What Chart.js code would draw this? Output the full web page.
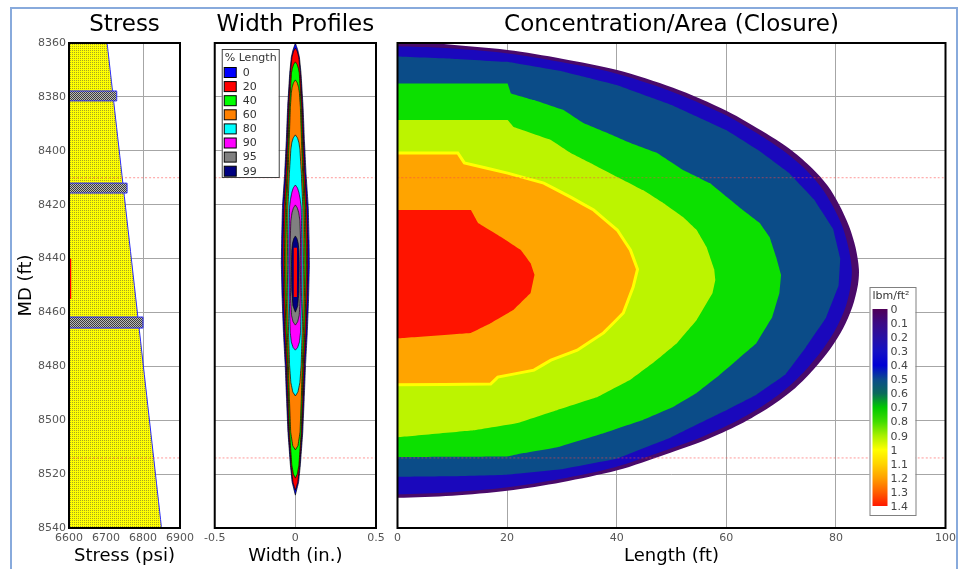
<!DOCTYPE html>
<html><head><meta charset="utf-8">
<script src="https://cdn.jsdelivr.net/npm/chart.js@4.4.1/dist/chart.umd.min.js"></script>
<style>
html,body{margin:0;padding:0;background:#fff;}
#wrap{position:relative;width:960px;height:569px;overflow:hidden;background:#fff;}
#frame{position:absolute;left:10px;top:7px;width:944px;height:600px;border:2px solid #88aadc;}
canvas{position:absolute;top:0;}
</style></head><body>
<div id="wrap">
<div id="frame"></div>
<canvas id="c1" width="200" height="569" style="left:0px"></canvas>
<canvas id="c2" width="190" height="569" style="left:200px"></canvas>
<canvas id="c3" width="570" height="569" style="left:390px"></canvas>
</div>
<script>
const FONT = '"DejaVu Sans", Verdana, sans-serif';

// ---------- shared depth axis ----------
const mdTicks = [8360, 8380, 8400, 8420, 8440, 8460, 8480, 8500, 8520, 8540];
const refLineMD = [8410, 8514];

// ---------- Stress panel ----------
const stressTicks = [6600, 6700, 6800, 6900];
const stressMD = [8360, 8540];
const stressPsi = [6703, 6850];
const shaleTopMD = [8377.8, 8412.0, 8461.7];
const shaleBaseMD = [8381.5, 8415.7, 8465.8];
const shalePsi = [6729, 6757, 6800];
const perfMD = [8440, 8455];
const perfPsi = [6602, 6602];

// ---------- Width profiles panel ([MD, half width in.]) ----------
const widthTicks = [-0.5, 0, 0.5];
const profileLabels = ['0', '20', '40', '60', '80', '90', '95', '99'];
const profileColors = ['#0000ff', '#ff0000', '#00ff00', '#ff8000', '#00ffff', '#ff00ff', '#808080', '#000080'];
const prof0 = [[8360,0],[8362.6,0.015],[8365.2,0.025],[8371.1,0.035],[8383.8,0.048],[8396,0.056],[8408.3,0.066],[8420.9,0.08],[8433.1,0.085],[8442,0.087],[8454.7,0.082],[8467.3,0.074],[8479.5,0.063],[8491.8,0.055],[8504.4,0.046],[8516.6,0.031],[8523,0.02],[8527.8,0]];
const prof20 = [[8361.9,0],[8363,0.011],[8365.2,0.021],[8371.1,0.031],[8383.8,0.043],[8396,0.05],[8408.3,0.059],[8420.9,0.071],[8433.1,0.076],[8442,0.077],[8454.7,0.073],[8467.3,0.066],[8479.5,0.056],[8491.8,0.049],[8504.4,0.041],[8516.6,0.027],[8523,0.015],[8526,0]];
const prof40 = [[8367,0],[8368,0.011],[8369.5,0.019],[8371.1,0.024],[8383.8,0.037],[8396,0.044],[8408.3,0.051],[8420.9,0.062],[8433.1,0.066],[8442,0.068],[8454.7,0.064],[8467.3,0.058],[8479.5,0.049],[8491.8,0.043],[8504.4,0.036],[8516.6,0.022],[8520,0.012],[8521.5,0]];
const prof60 = [[8373.7,0],[8374.8,0.012],[8376.5,0.02],[8378.5,0.025],[8383.8,0.031],[8396,0.038],[8408.3,0.045],[8420.9,0.054],[8433.1,0.058],[8442,0.059],[8454.7,0.056],[8467.3,0.05],[8479.5,0.043],[8491.8,0.037],[8504.4,0.029],[8509.5,0.016],[8511,0]];
const prof80 = [[8394.1,0],[8395.2,0.013],[8397,0.022],[8399.5,0.028],[8408.3,0.037],[8420.9,0.046],[8433.1,0.048],[8442,0.05],[8454.7,0.047],[8467.3,0.042],[8479.5,0.036],[8486,0.028],[8489.5,0.016],[8491,0]];
const prof90 = [[8412.7,0],[8413.8,0.013],[8415.5,0.022],[8418,0.03],[8420.9,0.036],[8433.1,0.04],[8442,0.041],[8454.7,0.038],[8467.3,0.032],[8471,0.025],[8473,0.014],[8474,0]];
const prof95 = [[8420.1,0],[8421.2,0.012],[8423,0.021],[8426,0.028],[8433.1,0.032],[8442,0.033],[8454.7,0.03],[8461,0.024],[8463.5,0.014],[8464.7,0]];
const prof99 = [[8431.6,0],[8432.6,0.01],[8434.5,0.018],[8437,0.022],[8442,0.024],[8452,0.022],[8457.5,0.015],[8459.9,0]];
const coreStrip = [[8436,0.01],[8454.3,0.01]];

// ---------- Concentration panel ([length ft, MD ft] contour boundaries) ----------
const lengthTicks = [0, 20, 40, 60, 80, 100];
const cbLevels = [0, 0.1, 0.2, 0.3, 0.4, 0.5, 0.6, 0.7, 0.8, 0.9, 1, 1.1, 1.2, 1.3, 1.4];
const cbColors = ['#500058','#3c0a84','#2810a4','#1410c4','#0000d4','#0a4a8c','#0a6a5a','#00c800','#40dc00','#a8f000','#ffff00','#ffd400','#ffa000','#ff6000','#ff1800'];
const bandNames = ['0.05', '0.25', '0.5', '0.75', '0.95', '1.2', '1.35'];
const bandColors = ['#4a0a6a', '#1a08bc', '#0b4c88', '#0ce000', '#bcf400', '#ffa400', '#ff1400'];
const bndPurple = [[0,8358],[8,8360.3],[20.1,8362.6],[30,8365.8],[40.1,8370],[50.3,8376.6],[60.1,8385.2],[67.3,8393.6],[72,8400],[75.7,8406.6],[78.5,8413],[80.6,8420],[82.4,8428],[83.6,8436],[84.2,8444],[84,8450],[83,8458],[81.3,8466],[79,8473.5],[76,8481],[72.6,8488],[68,8495],[62.5,8501.5],[56,8507.5],[49,8512.6],[40.1,8518.6],[30,8523],[20,8526.2],[10,8528],[0,8528.8]];
const bndBlue = [[0,8361.2],[8,8361.8],[19.8,8363.8],[29.6,8367],[39.5,8371.1],[49.5,8377.6],[59.2,8386.1],[66.3,8394.4],[70.9,8400.7],[74.6,8407.2],[77.3,8413.5],[79.4,8420.4],[81.2,8428.2],[82.3,8436.1],[82.9,8444],[82.7,8449.9],[81.8,8457.8],[80.1,8465.7],[77.8,8473.1],[74.9,8480.4],[71.5,8487.3],[67,8494.2],[61.6,8500.6],[55.2,8506.5],[48.3,8511.6],[39.5,8517.5],[29.6,8521.8],[19.7,8525],[9.9,8526.7],[0,8527.5]];
const bndTeal = [[0,8365],[10,8365.8],[20,8367],[30,8370.5],[40,8375.6],[50,8383],[60,8392.3],[66,8400],[71.5,8408.3],[76,8418],[79.5,8429],[80.8,8440],[80.5,8450],[78.2,8462],[74.5,8473],[70.8,8483],[65.5,8490.5],[59.5,8496.8],[50,8506.3],[40,8514.3],[30,8518.2],[20,8520.2],[10,8520.8],[0,8521]];
const bndGreen = [[0,8375],[20.1,8375],[20.7,8378.7],[24.9,8381.2],[30.3,8384.9],[33.9,8389.7],[38.3,8393.4],[42.5,8397.1],[47.4,8400.8],[52.1,8407.1],[57,8412],[60.1,8417.2],[63,8422],[66.1,8426.8],[67.9,8432],[69.1,8439.4],[70,8446],[69.7,8452.8],[68.4,8461.7],[65.5,8471.4],[61.9,8477.7],[58.3,8484],[54.6,8489.9],[50.3,8495.1],[44.8,8499.9],[37.6,8504.8],[29.2,8510],[23,8512.2],[20,8513.5],[0,8513.7]];
const bndYG = [[0,8388.6],[20.1,8388.6],[21.2,8391.2],[28,8396],[31.6,8400.8],[35.2,8404.5],[40.1,8409.7],[44.8,8414.6],[48.5,8419.4],[52.1,8424.6],[54.6,8429.4],[56.4,8435.7],[57.8,8444],[58,8448],[57.5,8452.8],[54.6,8462.8],[51,8471.4],[46.6,8478.8],[42.5,8485],[36.5,8491.4],[29.2,8496.2],[22,8501],[14,8503.7],[0,8506.3]];
const bndOrange = [[0,8400.8],[11,8400.8],[12.2,8404.5],[20.1,8408.3],[26.7,8412],[31.6,8417.2],[35.8,8422],[40.1,8429.4],[42.5,8436.8],[43.8,8444],[43,8450.6],[41.2,8460.2],[37.6,8467.6],[32.8,8474],[28,8477.7],[24.9,8481.4],[18.3,8484],[17,8486.6],[0,8486.8]];
const bndRed = [[0,8422],[13.4,8422],[14.7,8426.8],[18.9,8432],[22.5,8436.8],[24.3,8441.7],[25,8446],[24.3,8452.8],[21.2,8459],[17,8464],[13.4,8467.6],[0,8469.6]];
const concBands = [bndPurple, bndBlue, bndTeal, bndGreen, bndYG, bndOrange, bndRed];

// ---------- helpers ----------
function makePattern(size, bg, fg, cells) {
  const c = document.createElement('canvas');
  c.width = size; c.height = size;
  const g = c.getContext('2d');
  g.fillStyle = bg; g.fillRect(0, 0, size, size);
  g.fillStyle = fg;
  cells.forEach(p => g.fillRect(p[0], p[1], 1, 1));
  return g.createPattern(c, 'repeat');
}
const yellowDots = makePattern(2, '#ffff00', '#a8a820', [[0,0]]);
const shaleCheck = makePattern(2, '#b8b8b8', '#3c3c3c', [[0,0],[1,1]]);

function lineDs(data, extra) {
  return Object.assign({data: data, showLine: true, pointRadius: 0, pointHoverRadius: 0,
    borderWidth: 0, borderColor: 'rgba(0,0,0,0)', fill: false, clip: 0, tension: 0.001}, extra);
}
function mirror(prof) {
  const right = prof.map(p => ({x: p[1], y: p[0]}));
  const left = prof.slice().reverse().map(p => ({x: -p[1], y: p[0]}));
  return right.concat(left);
}
function refLines(xmin, xmax) {
  return refLineMD.map(md => lineDs([{x: xmin, y: md}, {x: xmax, y: md}],
    {borderColor: 'rgba(255,70,70,0.55)', borderWidth: 1, borderDash: [2, 2]}));
}

function yScale(showLabels, width) {
  return {
    type: 'linear', reverse: true, min: mdTicks[0], max: mdTicks[mdTicks.length - 1],
    ticks: {stepSize: mdTicks[1] - mdTicks[0], display: showLabels, color: '#555', font: {family: FONT, size: 11}, padding: 3, callback: v => String(v)},
    grid: {color: '#a6a6a6', drawTicks: false, lineWidth: 1},
    border: {display: false},
    title: {display: showLabels, text: 'MD (ft)', color: '#000', font: {family: FONT, size: 18}, padding: {top: 16, bottom: 0}},
    afterFit(s) { s.width = width; }
  };
}
function xScale(ticks, title) {
  return {
    type: 'linear', min: ticks[0], max: ticks[ticks.length - 1],
    ticks: {stepSize: ticks[1] - ticks[0], color: '#555', font: {family: FONT, size: 11}, padding: 4, callback: v => String(v)},
    grid: {color: '#a6a6a6', drawTicks: false, lineWidth: 1},
    border: {display: false},
    title: {display: true, text: title, color: '#000', font: {family: FONT, size: 18}, padding: {top: 0, bottom: 2}},
    afterFit(s) { s.height = 41; }
  };
}

const panelPlugin = {
  id: 'panel',
  afterDraw(chart, args, o) {
    const {ctx, chartArea: a} = chart;
    ctx.save();
    ctx.strokeStyle = '#000'; ctx.lineWidth = 2;
    ctx.strokeRect(a.left, a.top, a.right - a.left, a.bottom - a.top);
    ctx.font = '23px ' + FONT; ctx.fillStyle = '#000';
    ctx.textAlign = 'center'; ctx.textBaseline = 'middle';
    ctx.fillText(o.text, (a.left + a.right) / 2, 25);
    ctx.restore();
  }
};

const profLegendPlugin = {
  id: 'profLegend',
  afterDraw(chart) {
    const {ctx, chartArea: a} = chart;
    const x0 = a.left + 7, y0 = a.top + 6;
    ctx.save();
    ctx.fillStyle = '#fff'; ctx.fillRect(x0, y0, 57, 128);
    ctx.strokeStyle = '#404040'; ctx.lineWidth = 1; ctx.strokeRect(x0 + 0.5, y0 + 0.5, 57, 128);
    ctx.font = '11px ' + FONT; ctx.fillStyle = '#333'; ctx.textAlign = 'left'; ctx.textBaseline = 'middle';
    ctx.fillText('% Length', x0 + 3, y0 + 9);
    profileLabels.forEach((lab, i) => {
      const yy = y0 + 18 + i * 14.1;
      ctx.fillStyle = profileColors[i]; ctx.fillRect(x0 + 2.5, yy + 0.5, 12, 10);
      ctx.strokeStyle = '#000'; ctx.strokeRect(x0 + 2.5, yy + 0.5, 12, 10);
      ctx.fillStyle = '#333'; ctx.fillText(lab, x0 + 21, yy + 6);
    });
    ctx.restore();
  }
};

const colorbarPlugin = {
  id: 'colorbar',
  afterDraw(chart) {
    const {ctx, chartArea: a} = chart;
    const bx = a.right - 76, by = 287, bw = 46, bh = 228;
    ctx.save();
    ctx.fillStyle = '#fff'; ctx.fillRect(bx, by, bw, bh);
    ctx.strokeStyle = '#808080'; ctx.lineWidth = 1; ctx.strokeRect(bx + 0.5, by + 0.5, bw, bh);
    ctx.font = '11px ' + FONT; ctx.fillStyle = '#333'; ctx.textAlign = 'left'; ctx.textBaseline = 'middle';
    ctx.fillText('lbm/ft\u00b2', bx + 3, by + 9);
    const top = 309, bot = 506, x = bx + 3, w = 15;
    const maxL = cbLevels[cbLevels.length - 1];
    const grad = ctx.createLinearGradient(0, top, 0, bot);
    cbLevels.forEach((lv, i) => grad.addColorStop(lv / maxL, cbColors[i]));
    ctx.fillStyle = grad; ctx.fillRect(x, top, w, bot - top);
    ctx.fillStyle = '#444';
    cbLevels.forEach(lv => {
      ctx.fillText(String(lv), x + w + 3, top + 1 + (bot - top) * lv / maxL);
    });
    ctx.restore();
  }
};

const baseOpts = {responsive: false, animation: false, events: [],
  plugins: {legend: {display: false}, tooltip: {enabled: false}}};

// ---------- Chart 1: Stress ----------
const stressDatasets = [].concat(
  refLines(stressTicks[0], stressTicks[stressTicks.length - 1]),
  [lineDs(perfMD.map((m, i) => ({x: perfPsi[i], y: m})), {borderColor: '#ff0000', borderWidth: 3})],
  shaleTopMD.map((t, i) => lineDs([
    {x: stressTicks[0], y: t}, {x: shalePsi[i], y: t}, {x: shalePsi[i], y: shaleBaseMD[i]}, {x: stressTicks[0], y: shaleBaseMD[i]}
  ], {fill: 'shape', backgroundColor: shaleCheck, borderColor: '#2a2aff', borderWidth: 1})),
  [lineDs([
    {x: stressTicks[0], y: stressMD[0]}, {x: stressPsi[0], y: stressMD[0]},
    {x: stressPsi[1], y: stressMD[1]}, {x: stressTicks[0], y: stressMD[1]}
  ], {fill: 'shape', backgroundColor: yellowDots, borderColor: '#2a2aff', borderWidth: 1})]
);
new Chart(document.getElementById('c1'), {
  type: 'scatter',
  data: {datasets: stressDatasets},
  options: Object.assign({}, baseOpts, {
    layout: {padding: {left: 0, right: 20, top: 43, bottom: 0}},
    scales: {x: xScale(stressTicks, 'Stress (psi)'), y: yScale(true, 69)},
    plugins: Object.assign({}, baseOpts.plugins, {panel: {text: 'Stress'}})
  }),
  plugins: [panelPlugin]
});

// ---------- Chart 2: Width Profiles ----------
const profiles = [prof0, prof20, prof40, prof60, prof80, prof90, prof95, prof99];
const widthDatasets = [lineDs(mirror(coreStrip), {fill: 'shape', backgroundColor: '#ff0000'})]
  .concat(profiles.map((p, i) => lineDs(mirror(p), {fill: 'shape', backgroundColor: profileColors[i], borderColor: 'rgba(0,0,0,0.85)', borderWidth: 0.8, label: profileLabels[i]})).reverse())
  .concat(refLines(widthTicks[0], widthTicks[widthTicks.length - 1]));
new Chart(document.getElementById('c2'), {
  type: 'scatter',
  data: {datasets: widthDatasets},
  options: Object.assign({}, baseOpts, {
    layout: {padding: {left: 14, right: 14, top: 43, bottom: 0}},
    scales: {x: xScale(widthTicks, 'Width (in.)'), y: yScale(false, 0)},
    plugins: Object.assign({}, baseOpts.plugins, {panel: {text: 'Width Profiles'}})
  }),
  plugins: [panelPlugin, profLegendPlugin]
});

// ---------- Chart 3: Concentration/Area ----------
const concDatasets = refLines(lengthTicks[0], lengthTicks[lengthTicks.length - 1])
  .concat(concBands.map((b, i) => lineDs(b.map(p => ({x: p[0], y: p[1]})), {
    fill: 'shape', backgroundColor: bandColors[i], label: bandNames[i],
    tension: i < 2 ? 0.3 : 0.001,
    borderColor: i === 5 ? '#ffff00' : 'rgba(0,0,0,0)', borderWidth: i === 5 ? 3 : 0
  })).reverse());
new Chart(document.getElementById('c3'), {
  type: 'scatter',
  data: {datasets: concDatasets},
  options: Object.assign({}, baseOpts, {
    layout: {padding: {left: 6, right: 13, top: 43, bottom: 0}},
    scales: {x: xScale(lengthTicks, 'Length (ft)'), y: yScale(false, 0)},
    plugins: Object.assign({}, baseOpts.plugins, {panel: {text: 'Concentration/Area (Closure)'}})
  }),
  plugins: [panelPlugin, colorbarPlugin]
});
</script>
</body></html>
